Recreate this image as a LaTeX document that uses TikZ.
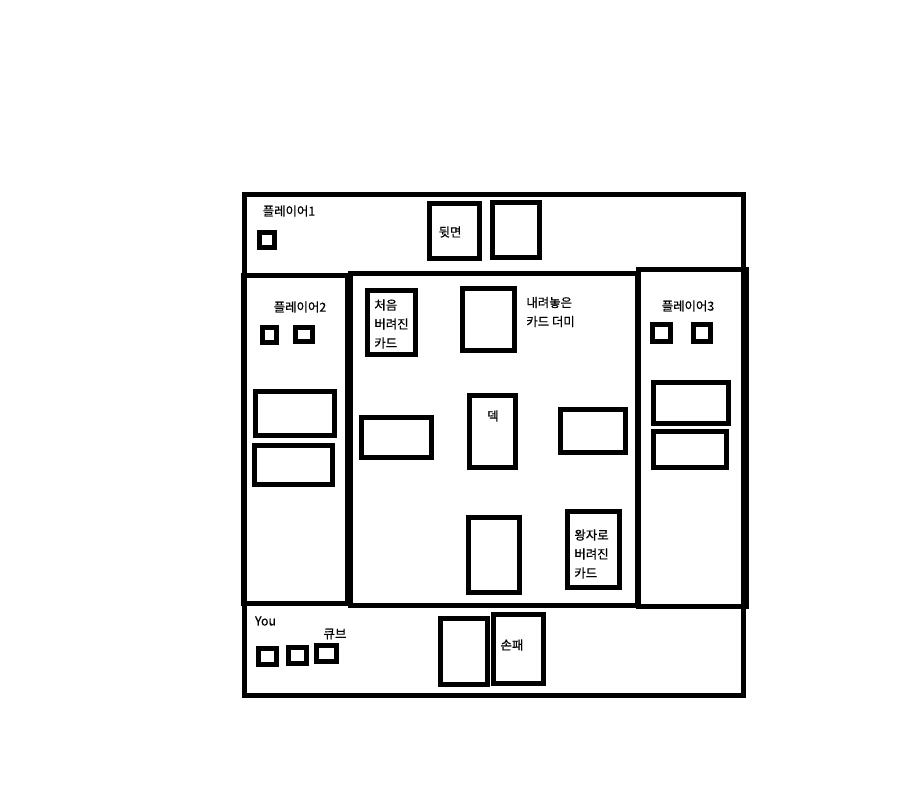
\documentclass[tikz,border=0pt]{standalone}
\usepackage{fontspec}
\newfontfamily\krfont[FakeBold=0.6]{Noto Sans CJK KR}
\usetikzlibrary{positioning}

\begin{document}
\begin{tikzpicture}[x=0.5pt, y=-0.5pt]
    % Styles
    \tikzstyle{zone} = [rectangle, draw=black, line width=2.5pt, inner sep=0pt, outer sep=0pt]
    \tikzstyle{card} = [rectangle, draw=black, line width=2.5pt, fill=white, inner sep=0pt]
    \tikzstyle{cube} = [rectangle, draw=black, line width=2.5pt, fill=white, inner sep=0pt]
    \tikzstyle{tag} = [inner sep=0pt, font=\krfont\fontsize{6.2pt}{9.5pt}\selectfont, align=left]

    \useasboundingbox (0,0) rectangle (900,802);

    % Zones of the table
    \node (frame) [zone, minimum width=249.5pt, minimum height=250pt] at (493.5,445) {};
    \node (leftzone) [zone, minimum width=52pt, minimum height=163.5pt] at (295,439.5) {};
    \node (midzone) [zone, minimum width=143.5pt, minimum height=165.5pt] at (493.5,439.5) {};
    \node (rightzone) [zone, minimum width=54pt, minimum height=168pt] at (692,438) {};

    % Player 1 (top)
    \node (p1name) [tag] at (289,211) {플레이어1};
    \node (p1cube) [cube, minimum width=7.5pt, minimum height=7.5pt] at (267,240.5) {};
    \node (backside) [card, minimum width=25pt, minimum height=27.5pt] at (454,231.5) {};
    \node (p1card) [card, minimum width=23.5pt, minimum height=27.5pt] at (515.5,230.5) {};
    \node (backtag) [tag] at (450,232) {뒷면};

    % Player 2 (left)
    \node (p2name) [tag] at (300,307) {플레이어2};
    \node (p2cubea) [cube, minimum width=7pt, minimum height=7.5pt] at (269.5,335) {};
    \node (p2cubeb) [cube, minimum width=8.5pt, minimum height=7pt] at (304,334.5) {};
    \node (p2carda) [card, minimum width=39.5pt, minimum height=22pt] at (295,413.5) {};
    \node (p2cardb) [card, minimum width=39pt, minimum height=19.5pt] at (293.5,465) {};

    % Middle of the table
    \node (firstdrop) [card, minimum width=24pt, minimum height=32pt] at (391.5,322.5) {};
    \node (firsttag) [tag, anchor=west] at (374,324) {처음\\버려진\\카드};
    \node (pile) [card, minimum width=26pt, minimum height=31pt] at (488.5,319.5) {};
    \node (piletag) [tag, anchor=west] at (526,312) {내려놓은\\카드 더미};
    \node (midleft) [card, minimum width=35pt, minimum height=20pt] at (396.5,437.5) {};
    \node (deck) [card, minimum width=23pt, minimum height=36pt] at (492.5,431.5) {};
    \node (decktag) [tag] at (493,416) {덱};
    \node (midright) [card, minimum width=32.5pt, minimum height=21.5pt] at (593,431) {};
    \node (midbottom) [card, minimum width=25.5pt, minimum height=37.5pt] at (494,555) {};
    \node (princedrop) [card, minimum width=26pt, minimum height=38pt] at (593.5,549.5) {};
    \node (princetag) [tag, anchor=west] at (574,554) {왕자로\\버려진\\카드};

    % Player 3 (right)
    \node (p3name) [tag] at (688,306) {플레이어3};
    \node (p3cubea) [cube, minimum width=9pt, minimum height=8.5pt] at (661.5,333) {};
    \node (p3cubeb) [cube, minimum width=8.5pt, minimum height=8.5pt] at (702,333) {};
    \node (p3carda) [card, minimum width=37.5pt, minimum height=20.5pt] at (691,403) {};
    \node (p3cardb) [card, minimum width=36.5pt, minimum height=18pt] at (690,449.5) {};

    % You (bottom)
    \node (youname) [tag] at (265.5,621) {You};
    \node (cubetag) [tag] at (335,634) {큐브};
    \node (youcubea) [cube, minimum width=9pt, minimum height=8pt] at (267.5,656.5) {};
    \node (youcubeb) [cube, minimum width=9pt, minimum height=8pt] at (297.5,655.5) {};
    \node (youcubec) [cube, minimum width=10pt, minimum height=8pt] at (326.5,653.5) {};
    \node (handa) [card, minimum width=23.5pt, minimum height=33pt] at (464,651.5) {};
    \node (handb) [card, minimum width=25pt, minimum height=34.5pt] at (518.5,649) {};
    \node (handtag) [tag] at (512,645) {손패};

\end{tikzpicture}
\end{document}
